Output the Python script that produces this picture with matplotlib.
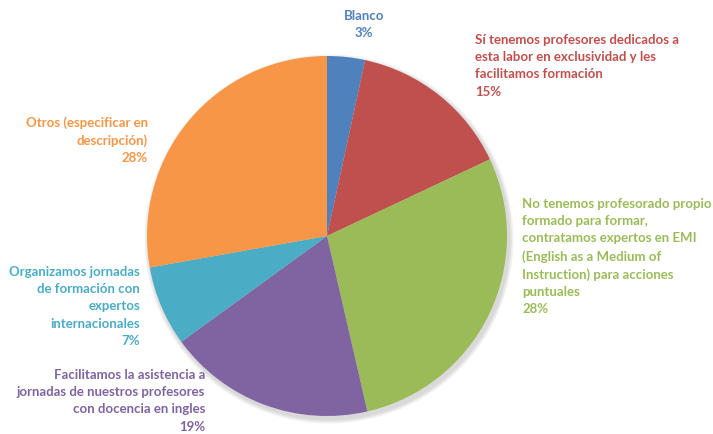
import matplotlib
matplotlib.use("Agg")
import matplotlib.pyplot as plt

categories = [
    "Blanco",
    "Sí tenemos profesores dedicados a\nesta labor en exclusividad y les\nfacilitamos formación",
    "No tenemos profesorado propio\nformado para formar,\ncontratamos expertos en EMI\n(English as a Medium of\nInstruction) para acciones\npuntuales",
    "Facilitamos la asistencia a\njornadas de nuestros profesores\ncon docencia en ingles",
    "Organizamos jornadas\nde formación con\nexpertos\ninternacionales",
    "Otros (especificar en\ndescripción)",
]
values = [3.4, 14.6, 28.4, 18.6, 7.2, 27.8]
colors = ["#4F81BD", "#C0504D", "#9BBB59", "#8064A2", "#4BACC6", "#F79646"]

# label anchor (pixel coords from top-left) and alignment
label_pos = [(364, 10, "center"), (475, 34, "left"), (522, 198, "left"),
             (205, 369, "right"), (140, 266, "right"), (148, 116, "right")]

W, H = 713, 435
fig = plt.figure(figsize=(W / 100, H / 100), dpi=100)
ax = fig.add_axes([0, 0, 1, 1])

cx, cy, r = 327, H - 237, 180

# soft shadow behind the pie
for k in range(3):
    sh = plt.Circle((cx + 2, cy - 3), r + 1.5 * (k + 1), color="#000000", alpha=0.05, lw=0)
    ax.add_patch(sh)

ax.pie(values, colors=colors, startangle=90, counterclock=False,
       center=(cx, cy), radius=r, frame=True,
       wedgeprops=dict(linewidth=0))
ax.set_xlim(0, W)
ax.set_ylim(0, H)
ax.set_aspect("equal")
ax.axis("off")

total = sum(values)
for cat, v, col, (x, y, ha) in zip(categories, values, colors, label_pos):
    txt = f"{cat}\n{round(v / total * 100)}%"
    ax.text(x, H - y, txt, color=col, ha=ha, va="top", multialignment=ha,
            fontsize=9.5, fontweight="bold", family="Lato", linespacing=1.52)

fig.savefig("out.png", dpi=100, facecolor="white")
